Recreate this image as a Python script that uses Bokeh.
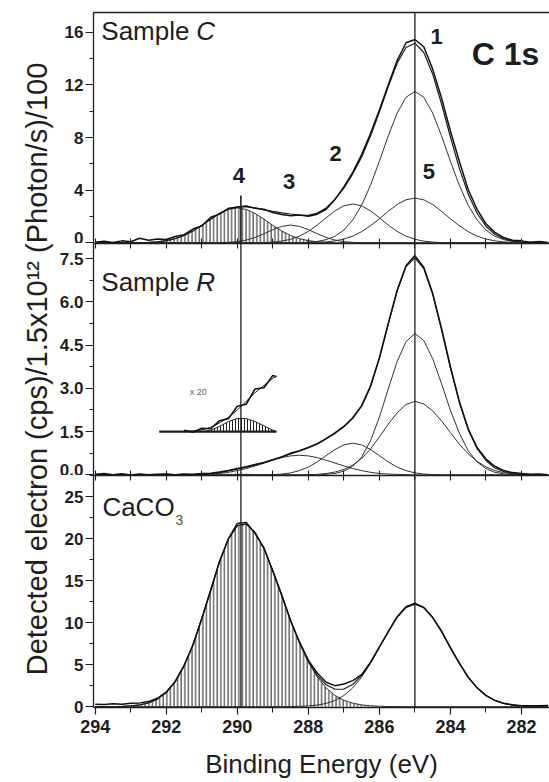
from math import pi
from bokeh.plotting import figure
from bokeh.models import (Range1d, LinearAxis, SingleIntervalTicker, FixedTicker,
                          PrintfTickFormatter, Span)
from bokeh.layouts import row, column
from bokeh.embed import file_html
from bokeh.resources import INLINE
from bokeh.core.properties import value

FONT = "Liberation Sans"
INK = "#1e1e1e"
COMP = "#333333"

# ---------------- data (binding energy grid, eV) ----------------
BE = [294.0, 293.75, 293.5, 293.25, 293.0, 292.75, 292.5, 292.25, 292.0, 291.75,
      291.5, 291.25, 291.0, 290.75, 290.5, 290.25, 290.0, 289.75, 289.5, 289.25,
      289.0, 288.75, 288.5, 288.25, 288.0, 287.75, 287.5, 287.25, 287.0, 286.75,
      286.5, 286.25, 286.0, 285.75, 285.5, 285.25, 285.0, 284.75, 284.5, 284.25,
      284.0, 283.75, 283.5, 283.25, 283.0, 282.75, 282.5, 282.25, 282.0, 281.75,
      281.5, 281.25]

# Sample C
C_peak4 = [0, 0, 0, 0, 0, 0.01, 0.03, 0.08, 0.17, 0.32,
           0.56, 0.90, 1.33, 1.80, 2.23, 2.54, 2.65, 2.54, 2.23, 1.80,
           1.33, 0.90, 0.56, 0.32, 0.17, 0.08, 0.03, 0.01, 0, 0,
           0, 0, 0, 0, 0, 0, 0, 0, 0, 0,
           0, 0, 0, 0, 0, 0, 0, 0, 0, 0, 0, 0]
C_peak3 = [0, 0, 0, 0, 0, 0, 0, 0, 0, 0,
           0, 0, 0, 0, 0.01, 0.04, 0.09, 0.21, 0.41, 0.69,
           1.00, 1.25, 1.35, 1.25, 1.00, 0.69, 0.41, 0.21, 0.09, 0.04,
           0.01, 0, 0, 0, 0, 0, 0, 0, 0, 0,
           0, 0, 0, 0, 0, 0, 0, 0, 0, 0, 0, 0]
C_peak2 = [0, 0, 0, 0, 0, 0, 0, 0, 0, 0,
           0, 0, 0, 0, 0, 0, 0, 0, 0.01, 0.02,
           0.06, 0.13, 0.27, 0.51, 0.87, 1.35, 1.90, 2.43, 2.81, 2.95,
           2.81, 2.43, 1.90, 1.35, 0.87, 0.51, 0.27, 0.13, 0.06, 0.02,
           0.01, 0, 0, 0, 0, 0, 0, 0, 0, 0, 0, 0]
C_peak1 = [0, 0, 0, 0, 0, 0, 0, 0, 0, 0,
           0, 0, 0, 0, 0, 0, 0, 0, 0, 0,
           0, 0, 0.01, 0.02, 0.04, 0.11, 0.24, 0.50, 0.97, 1.74,
           2.86, 4.38, 6.20, 8.13, 9.86, 11.06, 11.5, 11.06, 9.86, 8.13,
           6.20, 4.38, 2.86, 1.74, 0.97, 0.50, 0.24, 0.11, 0.04, 0.02, 0.01, 0]
C_peak5 = [0, 0, 0, 0, 0, 0, 0, 0, 0, 0,
           0, 0, 0, 0, 0, 0, 0, 0, 0, 0,
           0, 0, 0, 0.01, 0.01, 0.03, 0.07, 0.15, 0.29, 0.51,
           0.85, 1.30, 1.83, 2.40, 2.91, 3.27, 3.40, 3.27, 2.91, 2.40,
           1.83, 1.30, 0.85, 0.51, 0.29, 0.15, 0.07, 0.03, 0.01, 0.01, 0, 0]
C_fit = [0, 0, 0, 0, 0, 0.01, 0.03, 0.08, 0.17, 0.32,
         0.56, 0.90, 1.33, 1.80, 2.24, 2.58, 2.74, 2.75, 2.65, 2.51,
         2.39, 2.28, 2.19, 2.11, 2.09, 2.26, 2.65, 3.30, 4.16, 5.24,
         6.53, 8.11, 9.93, 11.88, 13.64, 14.84, 15.17, 14.46, 12.83, 10.55,
         8.04, 5.68, 3.71, 2.25, 1.26, 0.65, 0.31, 0.14, 0.05, 0.03, 0.01, 0]
C_data = [0.05, 0.12, 0.02, 0.15, 0.08, 0.35, 0.20, 0.30, 0.25, 0.48,
          0.62, 1.05, 1.28, 1.95, 2.18, 2.62, 2.70, 2.80, 2.62, 2.55,
          2.30, 2.15, 2.05, 2.12, 2.02, 2.18, 2.55, 3.30, 4.25, 5.35,
          6.70, 8.30, 10.10, 12.00, 13.85, 15.20, 15.45, 14.90, 13.20, 11.00,
          8.50, 6.20, 4.05, 2.55, 1.45, 0.80, 0.40, 0.20, 0.15, 0.05, 0.10, 0.02]

# Sample R
R_peak4 = [0, 0, 0, 0, 0, 0, 0, 0, 0, 0,
           0, 0, 0, 0.01, 0.03, 0.045, 0.05, 0.045, 0.03, 0.01,
           0, 0, 0, 0, 0, 0, 0, 0, 0, 0,
           0, 0, 0, 0, 0, 0, 0, 0, 0, 0,
           0, 0, 0, 0, 0, 0, 0, 0, 0, 0, 0, 0]
R_peak3 = [0, 0, 0, 0, 0, 0, 0, 0, 0, 0,
           0, 0.01, 0.02, 0.03, 0.05, 0.09, 0.15, 0.22, 0.31, 0.41,
           0.51, 0.60, 0.66, 0.68, 0.66, 0.60, 0.51, 0.41, 0.31, 0.22,
           0.15, 0.09, 0.05, 0.03, 0.02, 0.01, 0, 0, 0, 0,
           0, 0, 0, 0, 0, 0, 0, 0, 0, 0, 0, 0]
R_peak2 = [0, 0, 0, 0, 0, 0, 0, 0, 0, 0,
           0, 0, 0, 0, 0, 0, 0, 0, 0, 0,
           0.01, 0.03, 0.07, 0.15, 0.27, 0.45, 0.67, 0.88, 1.04, 1.10,
           1.04, 0.88, 0.67, 0.45, 0.27, 0.15, 0.07, 0.03, 0.01, 0,
           0, 0, 0, 0, 0, 0, 0, 0, 0, 0, 0, 0]
R_peak1 = [0, 0, 0, 0, 0, 0, 0, 0, 0, 0,
           0, 0, 0, 0, 0, 0, 0, 0, 0, 0,
           0, 0, 0, 0, 0, 0, 0.02, 0.05, 0.13, 0.30,
           0.62, 1.18, 2.00, 2.98, 3.93, 4.62, 4.90, 4.66, 4.03, 3.16,
           2.24, 1.45, 0.84, 0.45, 0.22, 0.09, 0.04, 0.01, 0, 0, 0, 0]
R_peak5 = [0, 0, 0, 0, 0, 0, 0, 0, 0, 0,
           0, 0, 0, 0, 0, 0, 0, 0, 0, 0,
           0, 0, 0, 0, 0.01, 0.02, 0.05, 0.10, 0.19, 0.34,
           0.57, 0.90, 1.32, 1.76, 2.15, 2.44, 2.55, 2.46, 2.22, 1.87,
           1.47, 1.07, 0.73, 0.47, 0.28, 0.15, 0.08, 0.04, 0.02, 0.01, 0, 0]
R_fit = [0, 0, 0, 0, 0, 0, 0, 0, 0, 0,
         0, 0.01, 0.02, 0.04, 0.08, 0.14, 0.20, 0.27, 0.34, 0.42,
         0.52, 0.63, 0.73, 0.83, 0.94, 1.07, 1.25, 1.44, 1.67, 1.96,
         2.38, 3.05, 4.04, 5.22, 6.37, 7.22, 7.52, 7.15, 6.26, 5.03,
         3.71, 2.52, 1.57, 0.92, 0.50, 0.24, 0.12, 0.05, 0.02, 0.01, 0, 0]
R_data = [0.02, 0.05, 0.01, 0.04, 0.00, 0.03, 0.01, 0.02, 0.03, 0.01,
          0.03, 0.02, 0.05, 0.06, 0.10, 0.15, 0.22, 0.28, 0.36, 0.43,
          0.53, 0.62, 0.75, 0.84, 0.95, 1.08, 1.26, 1.46, 1.68, 1.98,
          2.40, 3.08, 4.06, 5.25, 6.40, 7.25, 7.60, 7.20, 6.30, 5.08,
          3.75, 2.55, 1.60, 0.95, 0.55, 0.30, 0.15, 0.08, 0.05, 0.02, 0.03, 0.01]

# x20 magnified inset of Sample R (drawn on the R axis)
inset_base_x = [292.2, 288.9]
inset_base_y = [1.5, 1.5]
inset_peak_x = [291.0, 290.75, 290.5, 290.25, 290.0, 289.75, 289.5, 289.25, 289.0, 288.9]
inset_peak_y = [1.50, 1.55, 1.68, 1.85, 1.96, 1.95, 1.85, 1.70, 1.55, 1.50]
inset_fit_x = [291.5, 291.25, 291.0, 290.75, 290.5, 290.25, 290.0, 289.75, 289.5, 289.25, 289.0, 288.9]
inset_fit_y = [1.50, 1.52, 1.56, 1.65, 1.80, 2.00, 2.25, 2.55, 2.85, 3.10, 3.35, 3.42]
inset_data_y = [1.55, 1.48, 1.62, 1.60, 1.88, 1.95, 2.38, 2.45, 2.98, 3.02, 3.45, 3.40]

# CaCO3
Ca_peak4 = [0, 0, 0.01, 0.03, 0.09, 0.21, 0.45, 0.90, 1.68, 2.95,
            4.83, 7.36, 10.48, 13.92, 17.25, 19.95, 21.53, 21.71, 20.73, 18.79,
            16.17, 13.23, 10.27, 7.57, 5.30, 3.53, 2.22, 1.33, 0.76, 0.41,
            0.21, 0.10, 0.05, 0.02, 0.01, 0, 0, 0, 0, 0,
            0, 0, 0, 0, 0, 0, 0, 0, 0, 0, 0, 0]
Ca_peak1 = [0, 0, 0, 0, 0, 0, 0, 0, 0, 0,
            0, 0, 0, 0, 0, 0, 0, 0, 0, 0,
            0, 0, 0.01, 0.04, 0.08, 0.19, 0.38, 0.74, 1.33, 2.23,
            3.51, 5.14, 7.02, 8.93, 10.63, 11.79, 12.2, 11.79, 10.63, 8.93,
            7.02, 5.14, 3.51, 2.23, 1.33, 0.74, 0.38, 0.19, 0.08, 0.04, 0.01, 0]
Ca_fit = [0, 0, 0.01, 0.03, 0.09, 0.21, 0.45, 0.90, 1.68, 2.95,
          4.83, 7.36, 10.48, 13.92, 17.25, 19.95, 21.53, 21.71, 20.73, 18.79,
          16.17, 13.23, 10.28, 7.61, 5.38, 3.72, 2.60, 2.07, 2.09, 2.64,
          3.72, 5.24, 7.07, 8.95, 10.64, 11.79, 12.2, 11.79, 10.63, 8.93,
          7.02, 5.14, 3.51, 2.23, 1.33, 0.74, 0.38, 0.19, 0.08, 0.04, 0.01, 0]
Ca_data = [0.30, 0.25, 0.35, 0.28, 0.40, 0.45, 0.60, 1.00, 1.75, 3.00,
           4.90, 7.30, 10.50, 13.80, 17.30, 20.00, 21.80, 21.90, 20.60, 18.90,
           16.10, 13.30, 10.20, 7.70, 5.50, 4.00, 2.90, 2.50, 2.70, 3.10,
           3.80, 5.30, 7.10, 8.90, 10.70, 11.90, 12.30, 11.80, 10.60, 9.00,
           7.00, 5.20, 3.50, 2.25, 1.35, 0.75, 0.40, 0.22, 0.12, 0.10, 0.12, 0.15]

REF_LINES = [285.0, 289.9]
C_short_line_top = 3.6
EDGE_TICKS = [282, 283, 284, 285, 286, 287, 288, 289, 290, 291, 292, 293, 294]

peak_labels = ["1", "2", "3", "4", "5"]
peak_label_x = [284.39, 287.23, 288.54, 289.96, 284.61]
peak_label_y = [15.67, 6.77, 4.64, 5.10, 5.40]

Y_TITLE = "Detected electron (cps)/1.5x10\u00b9\u00b2 (Photon/s)/100"

# ---------------- layout ----------------
TITLE_W = 56
PANEL_W = 549 - TITLE_W
xr = Range1d(294.05, 281.21)


def panel(height, ylo, yhi, interval, fmt=None, top=0, bottom=0):
    p = figure(width=PANEL_W, height=height, x_range=xr, y_range=Range1d(ylo, yhi),
               x_axis_location=None, y_axis_location="left",
               toolbar_location=None, output_backend="svg",
               min_border_left=92 - TITLE_W, min_border_right=0,
               min_border_top=top, min_border_bottom=bottom,
               outline_line_color=None,
               background_fill_color="white", border_fill_color="white")
    p.grid.visible = False
    ax = p.yaxis[0]
    ax.ticker = SingleIntervalTicker(interval=interval, num_minor_ticks=2)
    if fmt:
        ax.formatter = PrintfTickFormatter(format=fmt)
    ax.major_tick_out = 8
    ax.major_tick_in = 0
    ax.minor_tick_out = 4
    ax.minor_tick_in = 0
    ax.major_label_standoff = 2
    ax.major_label_text_font = FONT
    ax.major_label_text_font_style = "bold"
    ax.major_label_text_font_size = "17px"
    ax.major_label_text_color = INK
    ax.axis_line_color = INK
    ax.axis_line_width = 1.3
    ax.major_tick_line_color = INK
    ax.minor_tick_line_color = INK
    ax.major_tick_line_width = 1.2
    return p


def edge_axis(tick_in):
    # frame edge line; ticks (minor only, so no labels) pointing into the panel
    a = LinearAxis(ticker=FixedTicker(ticks=[], minor_ticks=EDGE_TICKS if tick_in else []),
                   major_tick_in=0, major_tick_out=0,
                   minor_tick_in=tick_in, minor_tick_out=0,
                   major_label_standoff=0,
                   axis_line_color=INK, axis_line_width=1.3,
                   major_tick_line_color=None,
                   minor_tick_line_color=INK, minor_tick_line_width=1.1)
    return a


def vline(p, loc):
    p.add_layout(Span(location=loc, dimension="height", line_color=INK, line_width=1.3))


def txt(p, x, y, s, size, style="normal", align="left", xoff=0, color=INK):
    p.text(x=[x], y=[y], text=[s], text_font=value(FONT), text_font_size=size,
           text_font_style=style, text_align=align, text_baseline="middle",
           x_offset=xoff, text_color=color)


# ---- top: Sample C ----
p1 = panel(243, -0.05, 17.5, 4, top=12)
p1.add_layout(edge_axis(0), "above")
p1.add_layout(edge_axis(5), "below")
p1.varea(x=BE, y1=0, y2=C_peak4, fill_color=None, hatch_pattern="vertical_line",
         hatch_color=INK, hatch_weight=1.0, hatch_scale=3.6)
for comp in (C_peak4, C_peak3, C_peak2, C_peak1, C_peak5):
    p1.line(BE, comp, line_color=COMP, line_width=1.0)
p1.line(BE, C_fit, line_color=INK, line_width=1.2)
p1.line(BE, C_data, line_color="#111111", line_width=1.5)
vline(p1, REF_LINES[0])
p1.segment(x0=[REF_LINES[1]], y0=[0], x1=[REF_LINES[1]], y1=[C_short_line_top],
           line_color=INK, line_width=1.6)
p1.text(x=peak_label_x, y=peak_label_y, text=peak_labels, text_font=value(FONT),
        text_font_size="22px", text_font_style="bold", text_align="center",
        text_baseline="middle", text_color=INK)
txt(p1, 293.83, 16.1, "Sample ", "26px")
txt(p1, 293.83, 16.1, "C", "26px", style="italic", xoff=95)
txt(p1, 282.45, 14.34, "C 1s", "32px", style="bold", align="center")

# ---- middle: Sample R ----
p2 = panel(232, -0.02, 8.02, 1.5, fmt="%.1f")
p2.add_layout(edge_axis(5), "above")
p2.add_layout(edge_axis(5), "below")
p2.varea(x=BE, y1=0, y2=R_peak4, fill_color=None, hatch_pattern="vertical_line",
         hatch_color=INK, hatch_weight=1.0, hatch_scale=3.6)
for comp in (R_peak3, R_peak2, R_peak1, R_peak5):
    p2.line(BE, comp, line_color=COMP, line_width=1.0)
p2.line(BE, R_fit, line_color=INK, line_width=1.2)
p2.line(BE, R_data, line_color="#111111", line_width=1.5)
for loc in REF_LINES:
    vline(p2, loc)
p2.varea(x=inset_peak_x, y1=1.5, y2=inset_peak_y, fill_color=None,
         hatch_pattern="vertical_line", hatch_color=INK, hatch_weight=1.0, hatch_scale=3.0)
p2.line(inset_peak_x, inset_peak_y, line_color=INK, line_width=1.0)
p2.line(inset_base_x, inset_base_y, line_color=INK, line_width=2.2)
p2.line(inset_fit_x, inset_fit_y, line_color=INK, line_width=1.0)
p2.line(inset_fit_x, inset_data_y, line_color="#111111", line_width=1.6)
txt(p2, 291.1, 2.87, "x 20", "9px", align="center", color="#666666")
txt(p2, 293.83, 6.68, "Sample ", "26px")
txt(p2, 293.83, 6.68, "R", "26px", style="italic", xoff=95)

# ---- bottom: CaCO3 ----
p3 = panel(307, -0.1, 27.5, 5, bottom=75)
p3.add_layout(edge_axis(5), "above")
xa = LinearAxis(ticker=SingleIntervalTicker(interval=2, num_minor_ticks=2),
                axis_label="Binding Energy (eV)",
                major_tick_out=7, major_tick_in=0, minor_tick_out=5, minor_tick_in=0,
                major_label_standoff=5,
                major_label_text_font=FONT, major_label_text_font_style="bold",
                major_label_text_font_size="18px", major_label_text_color=INK,
                axis_label_text_font=FONT, axis_label_text_font_style="normal",
                axis_label_text_font_size="26px", axis_label_text_color=INK,
                axis_label_standoff=13,
                axis_line_color=INK, axis_line_width=1.3,
                major_tick_line_color=INK, minor_tick_line_color=INK,
                major_tick_line_width=1.2)
p3.add_layout(xa, "below")
p3.varea(x=BE, y1=0, y2=Ca_peak4, fill_color=None, hatch_pattern="vertical_line",
         hatch_color=INK, hatch_weight=1.0, hatch_scale=3.6)
for comp in (Ca_peak4, Ca_peak1):
    p3.line(BE, comp, line_color=COMP, line_width=1.0)
p3.line(BE, Ca_fit, line_color=INK, line_width=1.2)
p3.line(BE, Ca_data, line_color="#111111", line_width=1.5)
for loc in REF_LINES:
    vline(p3, loc)
txt(p3, 293.8, 23.8, "CaCO", "26px")
txt(p3, 293.8, 22.2, "3", "14px", xoff=73, color="#555555")

# ---- shared y-axis title ----
tf = figure(width=TITLE_W, height=782, x_range=Range1d(0, TITLE_W), y_range=Range1d(0, 782),
            x_axis_location=None, y_axis_location=None, toolbar_location=None,
            output_backend="svg", min_border=0, outline_line_color=None,
            background_fill_color="white", border_fill_color="white")
tf.grid.visible = False
tf.text(x=[36], y=[413.5], text=[Y_TITLE], angle=pi / 2, text_font=value(FONT),
        text_font_size="29px", text_align="center", text_baseline="alphabetic",
        text_color=INK)

layout = row(tf, column(p1, p2, p3, spacing=0), spacing=0)
open("out.html", "w").write(file_html(layout, INLINE))
